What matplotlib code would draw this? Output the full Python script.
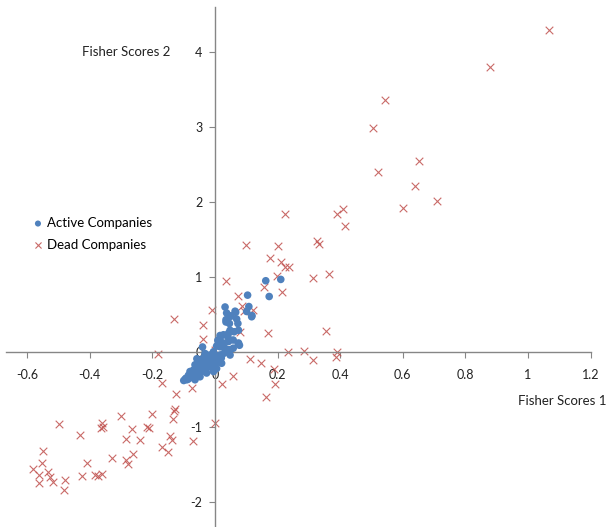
import matplotlib.pyplot as plt
import numpy as np

plt.rcParams['font.family'] = ['Lato', 'DejaVu Sans']

# Fisher discriminant scores for companies still trading
active_x = [0.162, 0.21, 0.173, 0.104, 0.108, 0.118, 0.032, 0.064, 0.051, 0.041,
            0.035, 0.073, 0.075, 0.074, 0.048, 0.041, 0.016, 0.009, -0.04, -0.058,
            0.05, 0.046, 0.069, 0.037, 0.061, 0.043, 0.027, 0.016, 0.011, 0.027,
            0.043, 0.058, 0.075, 0.016, 0.032, -0.005, -0.016, -0.032, -0.037, -0.021,
            -0.005, 0.005, 0.016, 0.027, 0.011, 0.0, -0.016, -0.032, -0.048, -0.053,
            -0.064, -0.069, -0.08, -0.085, -0.093, -0.074, -0.058, -0.042, -0.032, -0.09,
            -0.064, -0.048, -0.027, -0.005, 0.005, 0.021, 0.048, 0.043, 0.058, 0.078,
            0.048, 0.101, 0.117, 0.066, 0.035, -0.095, -0.078, -0.06, -0.045, -0.01,
            0.02, 0.035, -0.025, -0.07, 0.005, -0.1, -0.085, -0.07]
active_y = [0.95, 0.968, 0.74, 0.758, 0.606, 0.486, 0.60, 0.544, 0.48, 0.446,
            0.40, 0.38, 0.29, 0.11, 0.29, 0.20, 0.22, 0.156, 0.067, -0.09,
            0.48, 0.38, 0.44, 0.52, 0.27, 0.25, 0.23, 0.18, 0.14, 0.12,
            0.14, 0.16, 0.12, 0.07, 0.05, 0.004, -0.04, -0.02, -0.08, -0.11,
            -0.08, -0.06, -0.04, -0.02, -0.13, -0.17, -0.20, -0.15, -0.15, -0.22,
            -0.17, -0.24, -0.26, -0.31, -0.35, -0.33, -0.31, -0.26, -0.23, -0.37,
            -0.37, -0.33, -0.28, -0.26, -0.22, -0.15, -0.04, 0.03, 0.05, 0.09,
            0.03, 0.54, 0.47, 0.53, 0.43, -0.36, -0.30, -0.20, -0.18, -0.12,
            -0.08, 0.0, -0.05, -0.28, 0.08, -0.38, -0.36, -0.34]

# Fisher discriminant scores for companies that failed
dead_x = [1.066, 0.877, 0.544, 0.505, 0.652, 0.520, 0.640, 0.710, 0.602, 0.225,
          0.390, 0.41, 0.416, 0.099, 0.200, 0.325, 0.333, 0.174, 0.21, 0.224,
          0.236, 0.312, 0.364, 0.198, 0.035, 0.157, 0.214, 0.074, 0.086, 0.093,
          0.121, -0.011, -0.132, -0.04, 0.168, 0.356, -0.037, 0.08, -0.182, 0.233,
          0.285, 0.39, 0.385, 0.312, 0.113, 0.146, 0.189, 0.058, 0.023, 0.193,
          0.162, -0.074, -0.168, -0.124, -0.129, -0.132, -0.134, -0.001, -0.069, -0.2,
          -0.212, -0.216, -0.264, -0.299, -0.283, -0.239, -0.36, -0.358, -0.364, -0.43,
          -0.50, -0.144, -0.136, -0.168, -0.15, -0.261, -0.328, -0.283, -0.279, -0.408,
          -0.426, -0.383, -0.375, -0.36, -0.549, -0.553, -0.58, -0.563, -0.564, -0.533,
          -0.528, -0.517, -0.479, -0.483, 0.0]
dead_y = [4.29, 3.795, 3.36, 2.99, 2.54, 2.395, 2.216, 2.01, 1.92, 1.846,
          1.846, 1.91, 1.677, 1.427, 1.418, 1.48, 1.44, 1.258, 1.2, 1.13,
          1.13, 0.99, 1.04, 1.01, 0.95, 0.87, 0.80, 0.75, 0.61, 0.553,
          0.56, 0.557, 0.446, 0.36, 0.25, 0.276, 0.17, 0.27, -0.02, 0.0,
          0.013, 0.0, -0.06, -0.11, -0.09, -0.15, -0.22, -0.32, -0.43, -0.43,
          -0.60, -0.48, -0.41, -0.566, -0.76, -0.78, -0.89, -0.95, -1.186, -0.83,
          -1.017, -1.0, -1.03, -0.85, -1.155, -1.168, -0.945, -1.0, -1.01, -1.11,
          -0.959, -1.115, -1.17, -1.26, -1.33, -1.36, -1.41, -1.44, -1.49, -1.476,
          -1.65, -1.64, -1.65, -1.62, -1.32, -1.48, -1.56, -1.64, -1.74, -1.60,
          -1.67, -1.73, -1.70, -1.846, 0.03]

xticks = [-0.6, -0.4, -0.2, 0, 0.2, 0.4, 0.6, 0.8, 1, 1.2]
yticks = [-2, -1, 0, 1, 2, 3, 4]

blue = '#4F81BD'
red = '#C0504D'
axis_grey = '#868686'

fig = plt.figure(figsize=(6.06, 5.27), dpi=100)
ax = fig.add_axes([0, 0, 1, 1])
ax.set_xlim(-0.687, 1.249)
ax.set_ylim(-2.333, 4.693)

ax.scatter(active_x, active_y, s=30, color=blue, edgecolors='none',
           label='Active Companies', zorder=3)
ax.scatter(dead_x, dead_y, s=30, marker='x', color=red, linewidths=0.8,
           alpha=0.85, label='Dead Companies', zorder=2)

# axes cross at the origin, Excel style
for side in ['top', 'right']:
    ax.spines[side].set_visible(False)
ax.spines['left'].set_position(('data', 0))
ax.spines['bottom'].set_position(('data', 0))
ax.spines['left'].set_bounds(-2.333, 4.6)
ax.spines['bottom'].set_bounds(-0.667, 1.2)
for side in ['left', 'bottom']:
    ax.spines[side].set_color(axis_grey)
    ax.spines[side].set_linewidth(1.0)

ax.set_xticks(xticks)
ax.set_xticklabels([f'{t:g}' for t in xticks])
ax.set_yticks(yticks)
ax.set_yticklabels([f'{t:g}' for t in yticks])
ax.tick_params(axis='x', direction='out', length=4, width=0.8, color=axis_grey,
               pad=8, labelsize=9, labelcolor='#222222')
ax.tick_params(axis='y', direction='out', length=4, width=0.8, color=axis_grey,
               pad=5, labelsize=9, labelcolor='#222222')
ax.patch.set_alpha(0)

fig.text(170 / 606, 1 - 52 / 527, 'Fisher Scores 2', ha='right', va='center',
         fontsize=9.5, color='#222222')
fig.text(606 / 606, 1 - 401 / 527, 'Fisher Scores 1', ha='right', va='center',
         fontsize=9.5, color='#222222')

ax.legend(loc='upper left', bbox_to_anchor=(34 / 606, 1 - 217 / 527),
          bbox_transform=fig.transFigure, frameon=False, fontsize=9.5,
          handlelength=0.6, handletextpad=0.35, labelspacing=0.75,
          borderpad=0, borderaxespad=0, markerscale=0.8)

fig.savefig('out.png', dpi=100)
